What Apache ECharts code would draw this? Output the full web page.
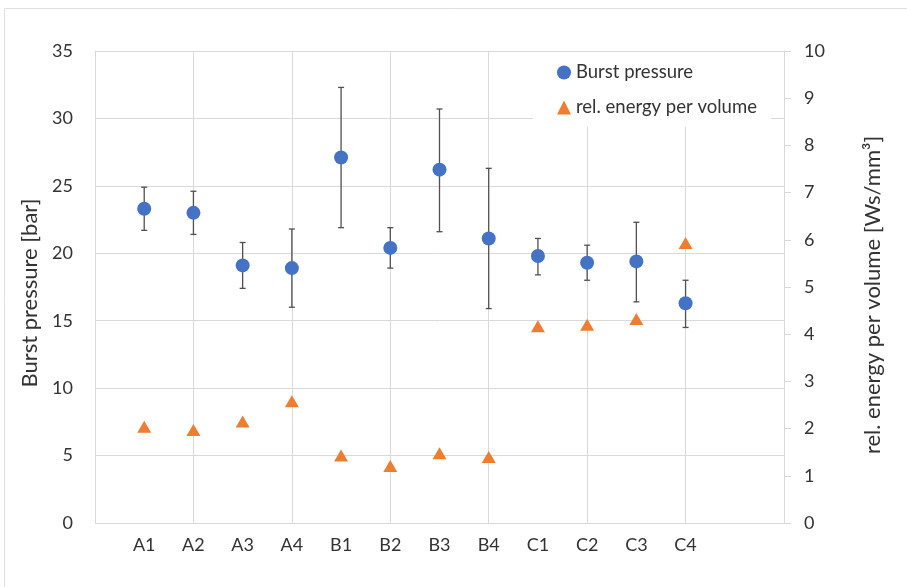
<!DOCTYPE html>
<html>
<head>
<meta charset="utf-8">
<style>
  html, body { margin: 0; padding: 0; background: #fff; }
  #chart { width: 907px; height: 587px; }
</style>
<script src="https://cdn.jsdelivr.net/npm/echarts@6/dist/echarts.min.js"></script>
</head>
<body>
<div id="chart"></div>
<script>
// sample names and where they sit on the x scale
var labels = ['A1', 'A2', 'A3', 'A4', 'B1', 'B2', 'B3', 'B4', 'C1', 'C2', 'C3', 'C4'];
var xPos = [0.5, 1, 1.5, 2, 2.5, 3, 3.5, 4, 4.5, 5, 5.5, 6];

// burst pressure [bar] with error range
var burst = [23.3, 23.0, 19.1, 18.9, 27.1, 20.4, 26.2, 21.1, 19.8, 19.3, 19.4, 16.3];
var burstLow = [21.7, 21.4, 17.4, 16.0, 21.9, 18.9, 21.6, 15.9, 18.4, 18.0, 16.4, 14.5];
var burstHigh = [24.9, 24.6, 20.8, 21.8, 32.3, 21.9, 30.7, 26.3, 21.1, 20.6, 22.3, 18.0];

// rel. energy per volume [Ws/mm³]
var energy = [2.04, 1.97, 2.15, 2.58, 1.43, 1.21, 1.48, 1.40, 4.17, 4.20, 4.32, 5.93];

var font = 'Lato, "Open Sans", sans-serif';
var textColor = '#333333';
var gridColor = '#d9d9d9';

var chart = echarts.init(document.getElementById('chart'));

chart.setOption({
  animation: false,
  textStyle: { fontFamily: font },
  graphic: [
    { type: 'line', shape: { x1: 4.5, y1: 8.5, x2: 907, y2: 8.5 }, style: { stroke: '#e0e0e0', lineWidth: 1 } },
    { type: 'line', shape: { x1: 4.5, y1: 8.5, x2: 4.5, y2: 587 }, style: { stroke: '#e0e0e0', lineWidth: 1 } }
  ],
  grid: { left: 95, right: 123, top: 51, bottom: 64 },
  legend: {
    orient: 'vertical',
    left: 533,
    top: 52,
    padding: [11, 14, 10, 24],
    itemGap: 16,
    itemWidth: 14,
    itemHeight: 14,
    backgroundColor: '#fff',
    textStyle: { fontFamily: font, fontSize: 18.5, color: textColor },
    data: [
      { name: 'Burst pressure', icon: 'circle' },
      { name: 'rel. energy per volume', icon: 'triangle' }
    ]
  },
  xAxis: [
    {
      type: 'value',
      min: 0,
      max: 7,
      interval: 1,
      axisLine: { show: true, onZero: false, lineStyle: { color: gridColor } },
      axisTick: { show: false },
      axisLabel: { show: false },
      splitLine: { show: true, lineStyle: { color: gridColor, width: 1 } }
    },
    {
      type: 'value',
      min: 0,
      max: 7,
      interval: 0.5,
      position: 'bottom',
      axisLine: { show: false, onZero: false },
      axisTick: { show: false },
      splitLine: { show: false },
      axisLabel: {
        margin: 13,
        fontFamily: font,
        fontSize: 18,
        color: textColor,
        formatter: function (v) {
          var i = xPos.indexOf(v);
          return i >= 0 ? labels[i] : '';
        }
      }
    }
  ],
  yAxis: [
    {
      type: 'value',
      min: 0,
      max: 35,
      interval: 5,
      name: 'Burst pressure [bar]',
      nameLocation: 'middle',
      nameGap: 52,
      nameTextStyle: { fontFamily: font, fontSize: 22, color: textColor, padding: [0, 12, 0, 0] },
      axisLine: { show: true, onZero: false, lineStyle: { color: gridColor } },
      axisTick: { show: false },
      axisLabel: { margin: 22, fontFamily: font, fontSize: 18, color: textColor },
      splitLine: { show: true, lineStyle: { color: gridColor, width: 1 } }
    },
    {
      type: 'value',
      min: 0,
      max: 10,
      interval: 1,
      position: 'right',
      name: 'rel. energy per volume [Ws/mm³]',
      nameLocation: 'middle',
      nameGap: 78,
      nameTextStyle: { fontFamily: font, fontSize: 22, color: textColor, padding: [0, 16, 0, 0] },
      axisLine: { show: true, onZero: false, lineStyle: { color: gridColor } },
      axisTick: { show: true, length: 7, lineStyle: { color: gridColor } },
      axisLabel: { margin: 20, fontFamily: font, fontSize: 18, color: textColor },
      splitLine: { show: false }
    }
  ],
  series: [
    {
      name: 'error',
      type: 'custom',
      xAxisIndex: 0,
      yAxisIndex: 0,
      z: 2,
      silent: true,
      data: xPos.map(function (x, i) { return [x, burstLow[i], burstHigh[i]]; }),
      renderItem: function (params, api) {
        var lo = api.coord([api.value(0), api.value(1)]);
        var hi = api.coord([api.value(0), api.value(2)]);
        var cap = 3;
        var style = { stroke: '#505050', lineWidth: 1.3 };
        return {
          type: 'group',
          children: [
            { type: 'line', shape: { x1: lo[0], y1: lo[1], x2: hi[0], y2: hi[1] }, style: style },
            { type: 'line', shape: { x1: lo[0] - cap, y1: lo[1], x2: lo[0] + cap, y2: lo[1] }, style: style },
            { type: 'line', shape: { x1: hi[0] - cap, y1: hi[1], x2: hi[0] + cap, y2: hi[1] }, style: style }
          ]
        };
      }
    },
    {
      name: 'Burst pressure',
      type: 'scatter',
      xAxisIndex: 0,
      yAxisIndex: 0,
      z: 3,
      symbol: 'circle',
      symbolSize: 14,
      itemStyle: { color: '#4472c4', opacity: 1 },
      data: xPos.map(function (x, i) { return [x, burst[i]]; })
    },
    {
      name: 'rel. energy per volume',
      type: 'scatter',
      xAxisIndex: 0,
      yAxisIndex: 1,
      z: 3,
      symbol: 'triangle',
      symbolSize: [14, 12],
      itemStyle: { color: '#ed7d31', opacity: 1 },
      data: xPos.map(function (x, i) { return [x, energy[i]]; })
    }
  ]
});
</script>
</body>
</html>
